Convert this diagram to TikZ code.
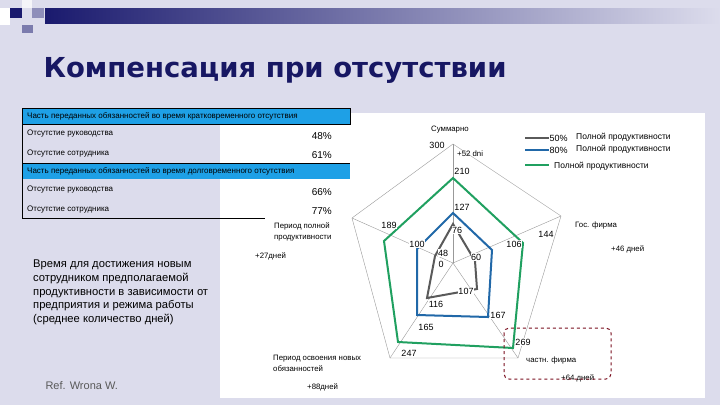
\documentclass[tikz,border=0pt]{standalone}
\usepackage{fontspec}
\setmainfont{Liberation Sans}
\newfontfamily\titlefont{DejaVu Sans}
\definecolor{bg}{HTML}{DCDCEC}
\definecolor{navy}{HTML}{1A1A6E}
\definecolor{hdr}{HTML}{1EA0E6}
\definecolor{gser}{HTML}{5A5A5A}
\definecolor{bser}{HTML}{2168A8}
\definecolor{gnser}{HTML}{20A060}
\definecolor{dred}{HTML}{7A1020}
\tikzset{lab/.style={font=\fontsize{8}{9}\selectfont,inner sep=1pt},
 val/.style={font=\fontsize{10}{11}\selectfont,inner sep=1pt},
 num/.style={font=\fontsize{9}{9}\selectfont,inner sep=0.5pt},
 ax/.style={font=\fontsize{7.8}{11}\selectfont,inner sep=1pt,align=left},
 leg/.style={font=\fontsize{8.5}{10}\selectfont,inner sep=1pt},
 grid/.style={draw=gray!80,line width=0.4pt},
 ser/.style={line width=2pt,line join=miter}}
\begin{document}
\begin{tikzpicture}[x=1pt,y=-1pt]
\useasboundingbox (0,0) rectangle (720,405);
\fill[bg] (0,0) rectangle (720,405);
% decoration
\shade[left color=navy,right color=bg] (45,8) rectangle (720,23);
\fill[navy] (10,8) rectangle (22,18);
\fill[white!70!bg] (22,0) rectangle (32,8);
\fill[navy!40!bg] (32,8) rectangle (44,18);
\fill[navy!50!bg] (22,25) rectangle (33,33);
\fill[white] (0,8) rectangle (10,25);
% title
\node[anchor=west,font=\titlefont\bfseries\fontsize{27.5}{30}\selectfont,text=navy!90!black] (title) at (40,70) {Компенсация при отсутствии};
% white areas
\fill[white] (220,218) rectangle (705,398);
\fill[white] (350,113) rectangle (705,218);
\fill[white] (220,108) rectangle (350,218);
% table
\fill[hdr] (22,108) rectangle (350,124);
\fill[hdr] (22,163) rectangle (350,179);
\draw[black,line width=0.6pt] (22,108) rectangle (350,124);
\draw[black,line width=0.6pt] (22,124) -- (22,218) -- (265,218);
\draw[black,line width=0.6pt] (22,163) -- (350,163);
\node[lab,anchor=west] (h1) at (26,116) {Часть переданных обязанностей во время кратковременного отсутствия};
\node[lab,anchor=west] (r1) at (26,134) {Отсутстие руководства};
\node[lab,anchor=west] (r2) at (26,154) {Отсутстие сотрудника};
\node[lab,anchor=west] (h2) at (26,171) {Часть переданных обязанностей во время долговременного отсутствия};
\node[lab,anchor=west] (r3) at (26,190) {Отсутстие руководства};
\node[lab,anchor=west] (r4) at (26,210) {Отсутстие сотрудника};
\node[val,anchor=east] (v1) at (333,136) {48\%};
\node[val,anchor=east] (v2) at (333,155) {61\%};
\node[val,anchor=east] (v3) at (333,192) {66\%};
\node[val,anchor=east] (v4) at (333,211) {77\%};
% left text
\node[anchor=north west,align=left,font=\fontsize{11.2}{13.6}\selectfont,inner sep=0] (desc) at (33,260) {Время для достижения новым\\сотрудником предполагаемой\\продуктивности в зависимости от\\предприятия и режима работы\\(среднее количество дней)};
\node[anchor=west,font=\fontsize{11}{12}\selectfont,text=gray!70!black] (ref) at (42,386) {Ref. Wrona W.};
% radar
\coordinate (C) at (453,263);
\coordinate (o1) at (453,144); \coordinate (o2) at (561,216); \coordinate (o3) at (518,358);
\coordinate (o4) at (390,358); \coordinate (o5) at (352,218);
\foreach \o in {o1,o2,o3,o4,o5}{\draw[grid] (C) -- (\o);}
\draw[grid] (o1) -- (o2) -- (o3) -- (o4) -- (o5) -- cycle;
\draw[ser,gnser] (453,178) -- (523,243) -- (513,348) -- (398,342) -- (384,241) -- cycle;
\draw[ser,bser] (453,213) -- (492,250) -- (488,317) -- (417,315) -- (417,249) -- cycle;
\draw[ser,gser] (453,224) -- (475,261) -- (477,289) -- (427,298) -- (435,256) -- cycle;
% value labels
\foreach \t/\x/\y in {300/437/145,210/462/171,127/462/207,76/457/230,144/546/234,106/514/244,60/476/257,48/443/253,0/441/264,189/389/225,100/417/244,107/466/291,116/436/304,167/498/315,165/426/327,269/523/342,247/409/353}{
  \node[num,fill=white] (n\t) at (\x,\y) {\t};}
% axis labels
\node[ax,anchor=west] (sum) at (430,130) {Суммарно};
\node[ax,anchor=west] (d52) at (456,154) {+52 dni};
\node[ax,anchor=west] (gos) at (574,225) {Гос. фирма};
\node[ax,anchor=west] (d46) at (610,249) {+46 дней};
\node[ax,anchor=west] (chast) at (525,360) {частн. фирма};
\node[ax,anchor=west] (d64) at (560,378) {+64 дней};
\node[ax,anchor=north west] (osv) at (272,354) {Период освоения новых\\обязанностей};
\node[ax,anchor=west] (d88) at (306,387) {+88дней};
\node[ax,anchor=north west] (poln) at (273,222) {Период полной\\продуктивности};
\node[ax,anchor=west] (d27) at (254,256) {+27дней};
\draw[dred,dashed,line width=1pt,rounded corners=5pt] (504,328) rectangle (611,379);
% legend
\draw[gser,line width=2pt] (525,138) -- (549,138);
\draw[bser,line width=2pt] (525,150) -- (549,150);
\draw[gnser,line width=2pt] (525,165) -- (549,165);
\node[num,anchor=west] (l50) at (549,138) {50\%};
\node[num,anchor=west] (l80) at (549,150) {80\%};
\node[leg,anchor=west] (t50) at (575,137) {Полной продуктивности};
\node[leg,anchor=west] (t80) at (575,149) {Полной продуктивности};
\node[leg,anchor=west] (t100) at (553,166) {Полной продуктивности};
\end{tikzpicture}
\end{document}
